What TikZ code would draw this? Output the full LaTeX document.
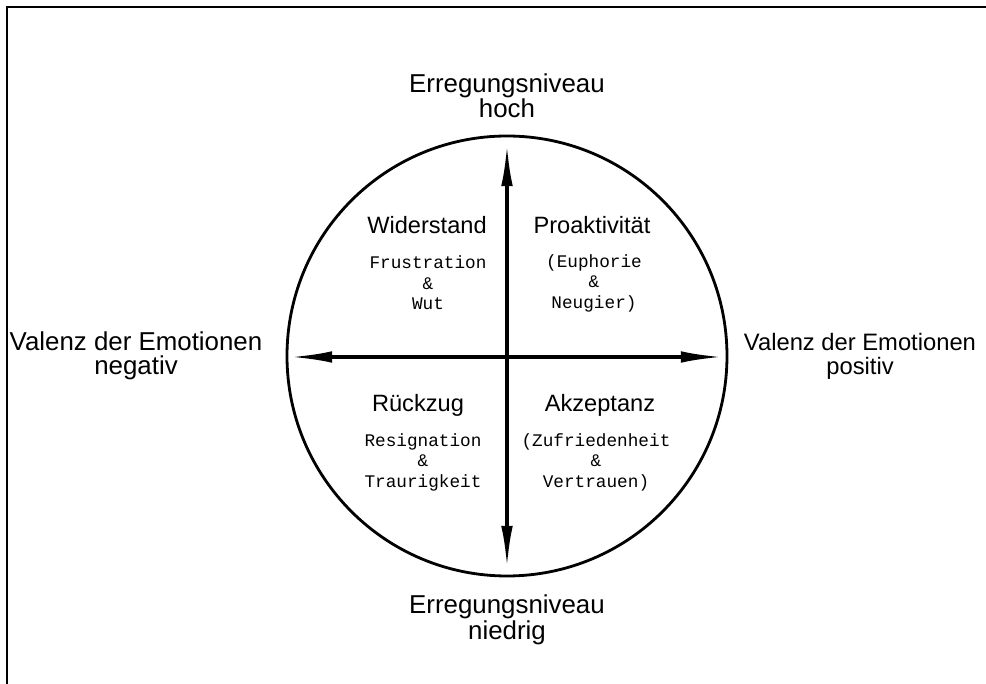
\documentclass[tikz,border=0pt]{standalone}
\usepackage{fontspec}
\setmainfont{Liberation Sans}
\setmonofont{Liberation Mono}
\usepackage{tikz}
\usetikzlibrary{arrows.meta}

\begin{document}
\begin{tikzpicture}[
	axislabel/.style={align=center, font=\fontsize{18.4pt}{17pt}\selectfont},
	quadtitle/.style={font=\fontsize{16.8pt}{18pt}\selectfont},
	quadtext/.style={align=center, font=\ttfamily\fontsize{12.6pt}{14.6pt}\selectfont},
	axisarrow/.style={line width=2.3pt, {Latex[length=10.3mm, width=2.9mm]}-{Latex[length=10.3mm, width=2.9mm]}}
	]
	\useasboundingbox (-12.675, -8.2) rectangle (11.975, 8.9);
	\draw[line width=2pt] (-12.5, -8.3) -- (-12.5, 8.725) -- (12.1, 8.725);

	\draw[line width=2pt] (0, 0) circle (5.5);
	\coordinate (top) at (0, 5.275);
	\coordinate (bottom) at (0, -5.275);
	\coordinate (left) at (-5.4, -0.025);
	\coordinate (right) at (5.375, -0.025);
	\draw[axisarrow] (bottom) -- (top);
	\draw[axisarrow] (left) -- (right);

	\node[axislabel] (hoch) at (0, 6.5) {Erregungsniveau\\hoch};
	\node[axislabel] (niedrig) at (0, -6.6) {Erregungsniveau\\niedrig};
	\node[axislabel] (negativ) at (-9.275, 0) {Valenz der Emotionen\\negativ};
	\node[axislabel, font=\fontsize{16.9pt}{17pt}\selectfont] (positiv) at (8.825, 0) {Valenz der Emotionen\\positiv};

	\node[quadtitle] (widerstand) at (-2.0, 3.275) {Widerstand};
	\node[quadtext] (frust) at (-1.975, 1.825) {Frustration\\\&\\Wut};
	\node[quadtitle] (proakt) at (2.125, 3.275) {Proaktivität};
	\node[quadtext] (euph) at (2.175, 1.825) {(Euphorie\\\&\\Neugier)};
	\node[quadtitle] (rueckzug) at (-2.225, -1.225) {Rückzug};
	\node[quadtext] (resig) at (-2.1, -2.65) {Resignation\\\&\\Traurigkeit};
	\node[quadtitle] (akzept) at (2.325, -1.225) {Akzeptanz};
	\node[quadtext] (zufr) at (2.225, -2.65) {(Zufriedenheit\\\&\\Vertrauen)};
\end{tikzpicture}
\end{document}
